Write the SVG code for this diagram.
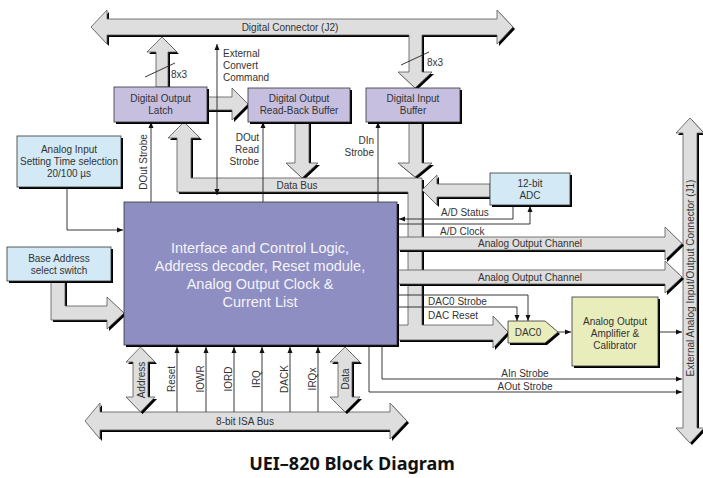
<svg xmlns="http://www.w3.org/2000/svg" width="703" height="478" viewBox="0 0 703 478">
<style>
text{font-family:"Liberation Sans","Open Sans",sans-serif;font-size:10px;fill:#333}
.c{text-anchor:middle}
.e{text-anchor:end}
.bus{fill:#dedede;stroke:#555;stroke-width:0.8}
.sh{fill:#000;stroke:none}
.ln{fill:none;stroke:#222;stroke-width:0.9}
.dig{fill:#c6bfe0;stroke:#333;stroke-width:0.8}
.blu{fill:#d3eaf6;stroke:#333;stroke-width:0.8}
.ylw{fill:#e9ecbb;stroke:#333;stroke-width:0.8}
.ctl{fill:#8e8ec2;stroke:#333;stroke-width:0.8}
.big{font-size:14.5px;fill:#f4f4fa}
.ttl{font-family:"Noto Sans","Open Sans",sans-serif;font-size:18px;font-weight:bold;fill:#111}
</style>
<defs>
<marker id="ah" markerWidth="6" markerHeight="6" refX="6" refY="3" orient="auto" markerUnits="userSpaceOnUse"><path d="M0,0.5 L6,3 L0,5.5 z" fill="#111"/></marker>
<marker id="ahs" markerWidth="6" markerHeight="6" refX="0" refY="3" orient="auto" markerUnits="userSpaceOnUse"><path d="M6,0.5 L0,3 L6,5.5 z" fill="#111"/></marker>
<polygon id="p-j2" points="91,27 107,10 107,19 497,19 497,10 513,27 497,44 497,35 422,35 422,72 432,72 415,88 398,72 409,72 409,35 107,35 107,44"/>
<polygon id="p-latch-up" points="162,37 177,52 168,52 168,87 156,87 156,52 147,52"/>
<polygon id="p-l2r" points="207,97 232,97 232,88 248,104 232,120 232,110 207,110"/>
<polygon id="p-rb-down" points="295,122 309,122 309,163 318,163 302,178 286,163 295,163"/>
<polygon id="p-in-down" points="409,122 422,122 422,163 432,163 415,177 398,163 409,163"/>
<polygon id="p-data" points="184,122 200,138 191,138 191,178 422,178 422,325 493,325 493,316 508,332 493,348 493,340 398,340 398,325 408,325 408,192 177,192 177,138 168,138"/>
<polygon id="p-adc" points="490,184 437,184 437,175 422,190 437,205 437,197 490,197"/>
<polygon id="p-aoc1" points="398,237 665,237 665,227 682,243.5 665,260 665,250 398,250"/>
<polygon id="p-aoc2" points="398,270 665,270 665,261 682,277 665,293 665,284 398,284"/>
<polygon id="p-base" points="51,281 65,281 65,306 107,306 107,297 124,313 107,329 107,320 51,320"/>
<polygon id="p-isa" points="85,421 100,403 100,412 390,412 390,403 407,421 390,439 390,430 100,430 100,439"/>
<polygon id="p-addr" points="140.5,347 155,362 148,362 148,397 155,397 140.5,412 126,397 133,397 133,362 126,362"/>
<polygon id="p-dat" points="345,347 360,362 352,362 352,397 360,397 345,412 330,397 338,397 338,362 330,362"/>
<polygon id="p-j1" points="690,118 704,133 697,133 697,428 704,428 690,443 676,428 683,428 683,133 676,133"/>
</defs>
<rect width="703" height="478" fill="#fff"/>

<g id="connectors">
<g id="buses">
<use href="#p-j2" class="sh" transform="translate(2,2)"/><use href="#p-j2" class="bus"/>
<use href="#p-j1" class="sh" transform="translate(2,2)"/><use href="#p-j1" class="bus"/>
<use href="#p-latch-up" class="sh" transform="translate(2,2)"/><use href="#p-latch-up" class="bus"/>
<use href="#p-l2r" class="sh" transform="translate(2,2)"/><use href="#p-l2r" class="bus"/>
<use href="#p-rb-down" class="sh" transform="translate(2,2)"/><use href="#p-rb-down" class="bus"/>
<use href="#p-in-down" class="sh" transform="translate(2,2)"/><use href="#p-in-down" class="bus"/>
<use href="#p-data" class="sh" transform="translate(2,2)"/><use href="#p-data" class="bus"/>
<use href="#p-adc" class="sh" transform="translate(2,2)"/><use href="#p-adc" class="bus"/>
<use href="#p-aoc1" class="sh" transform="translate(2,2)"/><use href="#p-aoc1" class="bus"/>
<use href="#p-aoc2" class="sh" transform="translate(2,2)"/><use href="#p-aoc2" class="bus"/>
<use href="#p-base" class="sh" transform="translate(2,2)"/><use href="#p-base" class="bus"/>
<use href="#p-isa" class="sh" transform="translate(2,2)"/><use href="#p-isa" class="bus"/>
<use href="#p-addr" class="sh" transform="translate(2,2)"/><use href="#p-addr" class="bus"/>
<use href="#p-dat" class="sh" transform="translate(2,2)"/><use href="#p-dat" class="bus"/>
</g>
<g id="signals">
<line class="ln" x1="145" y1="77" x2="175" y2="63"/>
<line class="ln" x1="401" y1="65" x2="429" y2="52"/>
<line class="ln" x1="217" y1="44" x2="217" y2="195" marker-start="url(#ahs)" marker-end="url(#ah)"/>
<line class="ln" x1="151" y1="202" x2="151" y2="122" marker-end="url(#ah)"/>
<line class="ln" x1="263" y1="202" x2="263" y2="122" marker-end="url(#ah)"/>
<line class="ln" x1="378" y1="202" x2="378" y2="122" marker-end="url(#ah)"/>
<polyline class="ln" points="67,187 67,230 123,230" marker-end="url(#ah)"/>
<polyline class="ln" points="513,205 513,219 399,219" marker-end="url(#ah)"/>
<polyline class="ln" points="398,224 530,224 530,206" marker-end="url(#ah)"/>
<polyline class="ln" points="398,295 528,295 528,321" marker-end="url(#ah)"/>
<polyline class="ln" points="398,307 517,307 517,321" marker-end="url(#ah)"/>
<line class="ln" x1="558" y1="332" x2="571" y2="332" marker-end="url(#ah)"/>
<line class="ln" x1="659" y1="332" x2="682" y2="332" marker-end="url(#ah)"/>
<polyline class="ln" points="382,346 382,379 682,379" marker-end="url(#ah)"/>
<polyline class="ln" points="369,346 369,392 682,392" marker-end="url(#ah)"/>
<line class="ln" x1="177" y1="412" x2="177" y2="347" marker-end="url(#ah)"/>
<line class="ln" x1="206" y1="412" x2="206" y2="347" marker-end="url(#ah)"/>
<line class="ln" x1="234" y1="412" x2="234" y2="347" marker-end="url(#ah)"/>
<line class="ln" x1="262" y1="412" x2="262" y2="347" marker-end="url(#ah)"/>
<line class="ln" x1="290" y1="412" x2="290" y2="347" marker-end="url(#ah)"/>
<line class="ln" x1="318" y1="412" x2="318" y2="347" marker-end="url(#ah)"/>
</g>
<g id="labels">
<text class="c" x="290" y="31">Digital Connector (J2)</text>
<text x="171" y="78">8x3</text>
<text x="427" y="66">8x3</text>
<text x="223" y="57">External</text>
<text x="223" y="69">Convert</text>
<text x="223" y="81">Command</text>
<text class="c" transform="translate(147,162) rotate(-90)">DOut Strobe</text>
<text class="e" x="259" y="141">DOut</text>
<text class="e" x="259" y="153">Read</text>
<text class="e" x="259" y="165">Strobe</text>
<text class="e" x="374" y="144">DIn</text>
<text class="e" x="374" y="156">Strobe</text>
<text class="c" x="297" y="189">Data Bus</text>
<text x="441" y="216">A/D Status</text>
<text x="440" y="235">A/D Clock</text>
<text class="c" x="530" y="247">Analog Output Channel</text>
<text class="c" x="530" y="281">Analog Output Channel</text>
<text x="428" y="305">DAC0 Strobe</text>
<text x="428" y="319">DAC Reset</text>
<text class="c" x="525" y="377">AIn Strobe</text>
<text class="c" x="525" y="390">AOut Strobe</text>
<text class="c" x="245" y="425">8-bit ISA Bus</text>
<text class="c" transform="translate(145,380) rotate(-90)">Address</text>
<text class="c" transform="translate(349,379) rotate(-90)">Data</text>
<text class="c" transform="translate(175,379) rotate(-90)">Reset</text>
<text class="c" transform="translate(204,379) rotate(-90)">IOWR</text>
<text class="c" transform="translate(232,379) rotate(-90)">IORD</text>
<text class="c" transform="translate(260,379) rotate(-90)">IRQ</text>
<text class="c" transform="translate(288,379) rotate(-90)">DACK</text>
<text class="c" transform="translate(316,379) rotate(-90)">IRQx</text>
<text class="c" transform="translate(694,278) rotate(-90)">External Analog Input/Output Connector (J1)</text>
</g>
</g>

<g id="dig-out-latch">
<rect class="sh" x="116" y="89" width="93" height="35"/>
<rect class="dig" x="114" y="87" width="93" height="35"/>
<text class="c" x="160.5" y="102">Digital Output</text>
<text class="c" x="160.5" y="114">Latch</text>
</g>
<g id="dig-out-readback">
<rect class="sh" x="250" y="90" width="102" height="34"/>
<rect class="dig" x="248" y="88" width="102" height="34"/>
<text class="c" x="299" y="102">Digital Output</text>
<text class="c" x="299" y="114">Read-Back Buffer</text>
</g>
<g id="dig-in-buffer">
<rect class="sh" x="368" y="90" width="94" height="34"/>
<rect class="dig" x="366" y="88" width="94" height="34"/>
<text class="c" x="413" y="102">Digital Input</text>
<text class="c" x="413" y="114">Buffer</text>
</g>
<g id="analog-input-setting">
<rect class="sh" x="19" y="138" width="104" height="51"/>
<rect class="blu" x="17" y="136" width="104" height="51"/>
<text class="c" x="69" y="153">Analog Input</text>
<text class="c" x="69" y="165" textLength="98" lengthAdjust="spacingAndGlyphs">Setting Time selection</text>
<text class="c" x="69" y="177">20/100 µs</text>
</g>
<g id="base-address">
<rect class="sh" x="9" y="249" width="104" height="34"/>
<rect class="blu" x="7" y="247" width="104" height="34"/>
<text class="c" x="59" y="262">Base Address</text>
<text class="c" x="59" y="274">select switch</text>
</g>
<g id="adc">
<rect class="sh" x="492" y="175" width="80" height="32"/>
<rect class="blu" x="490" y="173" width="80" height="32"/>
<text class="c" x="530" y="187">12-bit</text>
<text class="c" x="530" y="199">ADC</text>
</g>
<g id="control-logic">
<rect class="sh" x="126" y="204" width="273" height="143"/>
<rect class="ctl" x="124" y="202" width="273" height="143"/>
<text class="c big" x="260" y="253">Interface and Control Logic,</text>
<text class="c big" x="260" y="271">Address decoder, Reset module,</text>
<text class="c big" x="260" y="289">Analog Output Clock &amp;</text>
<text class="c big" x="260" y="307">Current List</text>
</g>
<g id="dac0">
<polygon class="sh" points="510,323 547,323 560,334 547,345 510,345"/>
<polygon class="ylw" points="508,321 545,321 558,332 545,343 508,343"/>
<text class="c" x="528" y="336">DAC0</text>
</g>
<g id="amp">
<rect class="sh" x="574" y="299" width="86" height="69"/>
<rect class="ylw" x="572" y="297" width="86" height="69"/>
<text class="c" x="615" y="325">Analog Output</text>
<text class="c" x="615" y="337">Amplifier &amp;</text>
<text class="c" x="615" y="349">Calibrator</text>
</g>
<text class="ttl c" x="352" y="470">UEI–820 Block Diagram</text>
</svg>
